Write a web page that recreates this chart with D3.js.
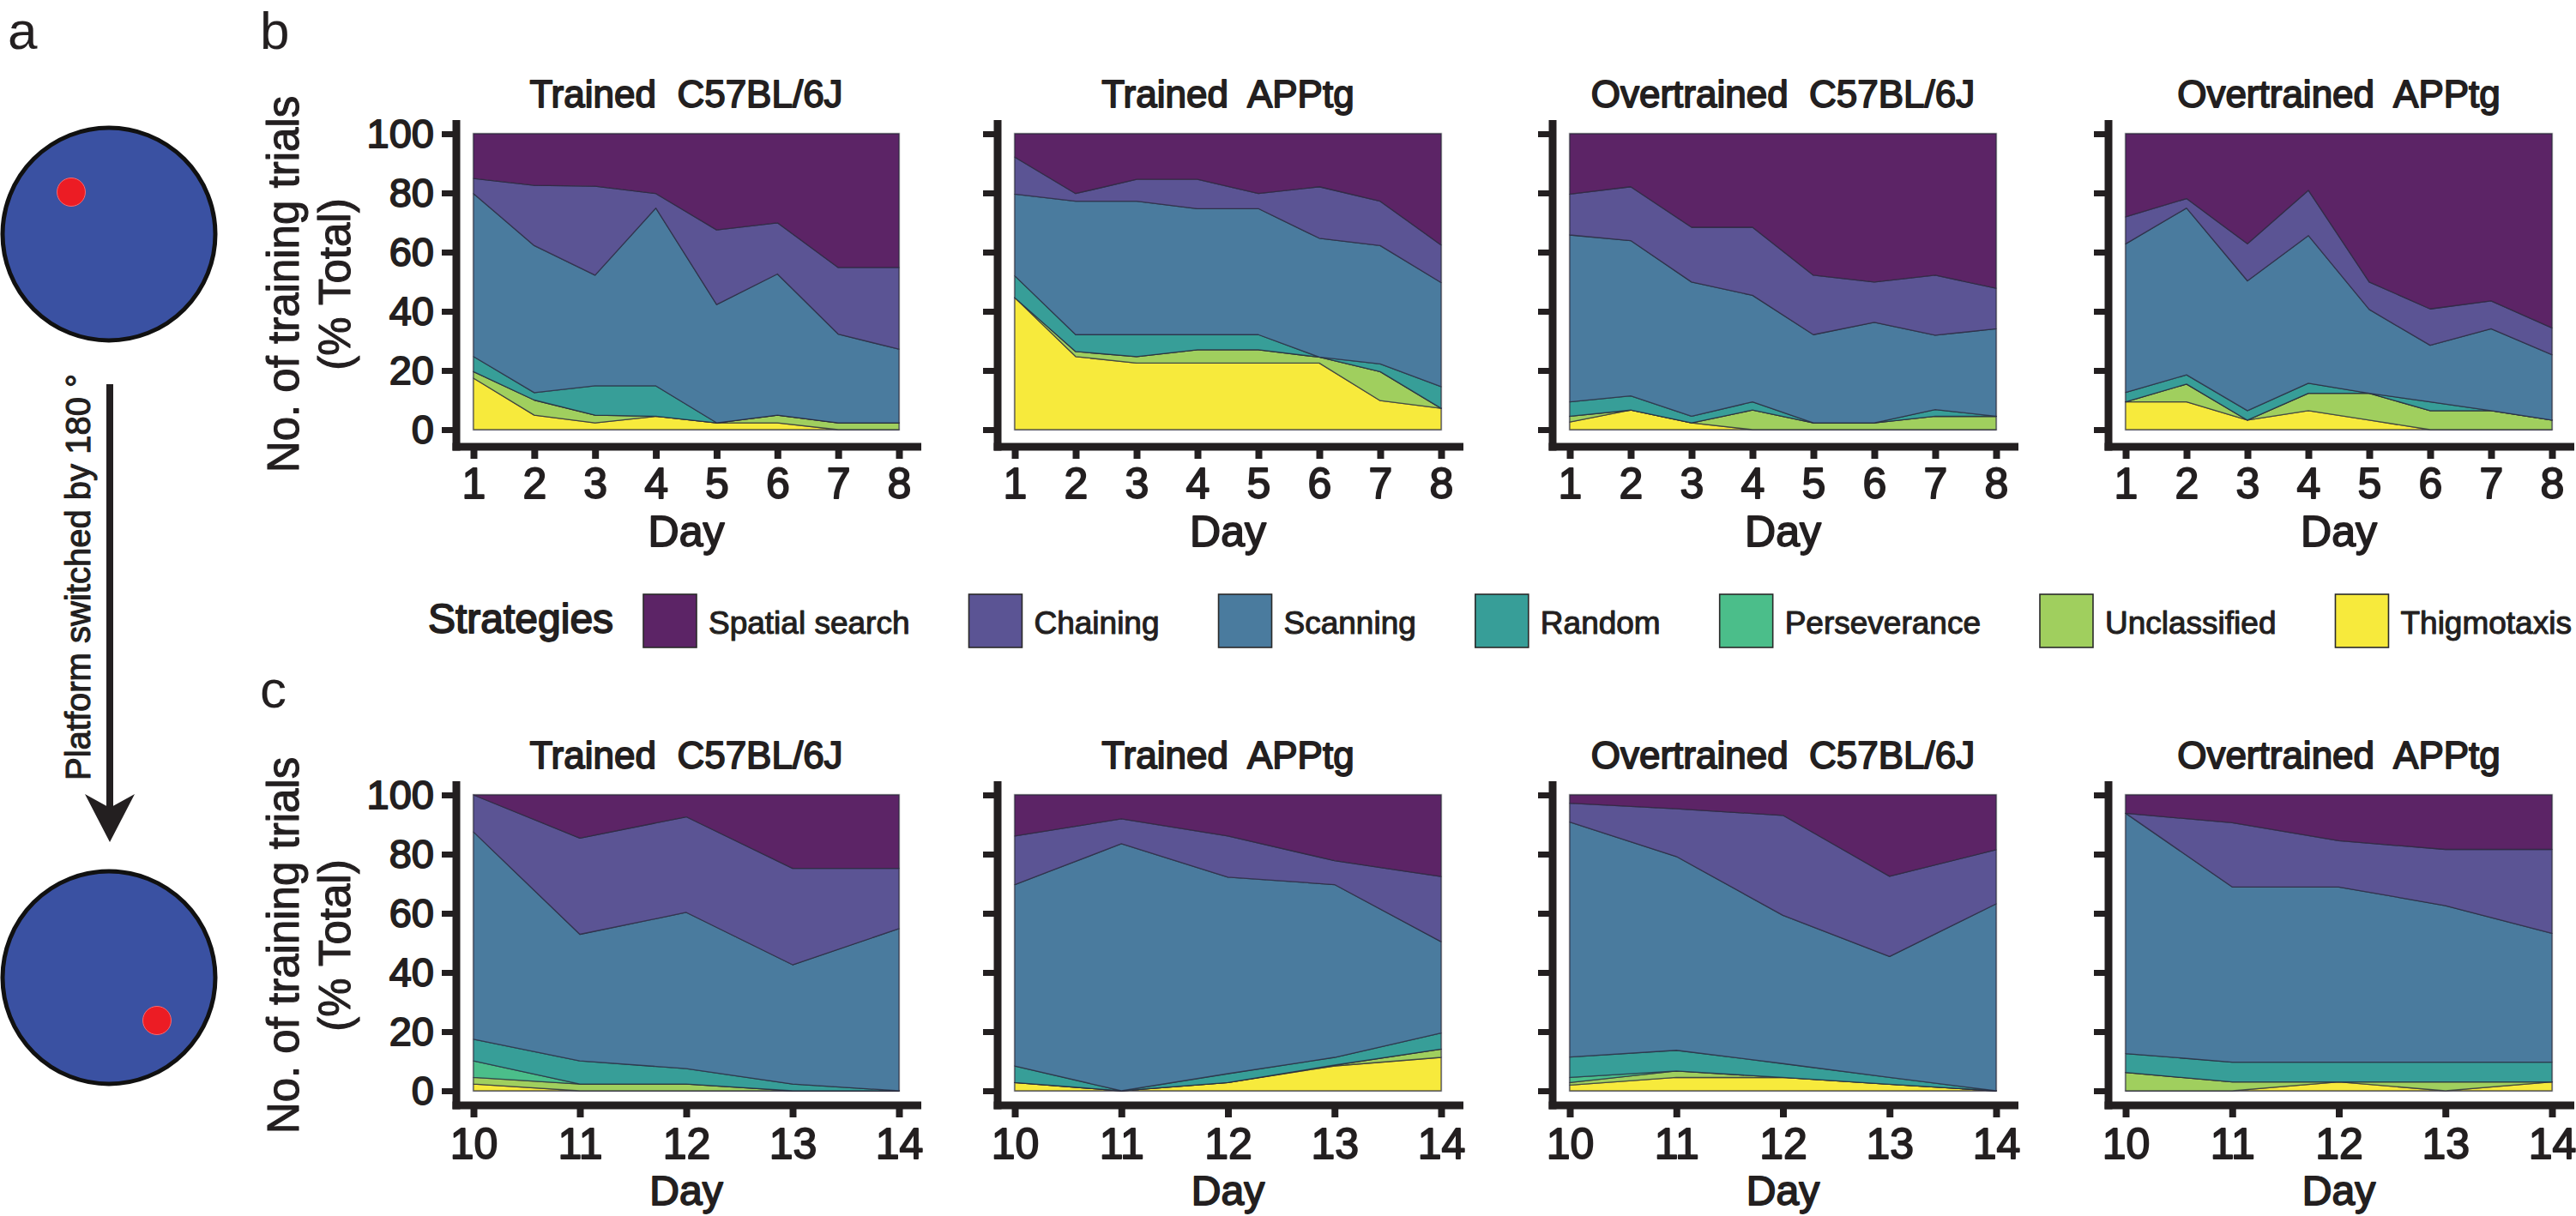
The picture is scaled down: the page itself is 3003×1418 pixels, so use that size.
<!DOCTYPE html>
<html><head><meta charset="utf-8">
<script src="https://cdn.jsdelivr.net/npm/d3@7"></script>
<style>
body{margin:0;background:#fff}
svg text{font-family:"Liberation Sans",Arial,Helvetica,sans-serif;fill:#231f20}
svg text.heavy{stroke:#231f20;stroke-width:1.8px;stroke-linejoin:round}
svg text.medium{stroke:#231f20;stroke-width:1.1px;stroke-linejoin:round}
</style>
</head><body>
<svg id="fig" width="3003" height="1418" xmlns="http://www.w3.org/2000/svg"></svg>
<script>
// ---------- DATA ----------
// stacking order, bottom to top
const strategies = ["Thigmotaxis","Unclassified","Perseverance","Random","Scanning","Chaining","Spatial search"];
const legendOrder = ["Spatial search","Chaining","Scanning","Random","Perseverance","Unclassified","Thigmotaxis"];
const strategyColors = ["#f7ea3c","#a0cf5e","#4bbe8a","#379e98","#4a7b9e","#5b5494","#5c2466"];
const daysB = [1,2,3,4,5,6,7,8];
const daysC = [10,11,12,13,14];
const yTicks = [0,20,40,60,80,100];
const panelTitles = ["Trained  C57BL/6J","Trained  APPtg","Overtrained  C57BL/6J","Overtrained  APPtg"];

// % of training trials per strategy (rows follow `strategies`), one value per day
const bTrainedC57 = [
  [17.4, 4.9, 2.3, 4.5, 2.3, 2.3, 0, 0],
  [2.2, 5.1, 2.6, 0, 0, 2.6, 2.3, 2.3],
  [0, 0, 0, 0, 0, 0, 0, 0],
  [5.1, 2.5, 9.9, 10.3, 0, 0, 0, 0],
  [55.1, 49.7, 37.4, 60.1, 40.0, 47.7, 30.0, 24.9],
  [5.1, 20.4, 30.1, 4.9, 25.2, 17.3, 22.5, 27.6],
  [15.1, 17.4, 17.7, 20.2, 32.5, 30.1, 45.2, 45.2]
];
const bTrainedAPP = [
  [44.6, 24.7, 22.5, 22.5, 22.5, 22.5, 9.8, 7.2],
  [0, 1.7, 2.2, 4.5, 4.5, 2.0, 9.8, 0],
  [0, 0, 0, 0, 0, 0, 0, 0],
  [7.4, 5.7, 7.4, 5.1, 5.1, 0, 2.6, 7.3],
  [27.6, 45.1, 45.1, 42.6, 42.6, 40.2, 40.0, 35.2],
  [12.5, 2.6, 7.4, 9.9, 5.1, 17.4, 15.0, 12.7],
  [7.9, 20.2, 15.4, 15.4, 20.2, 17.9, 22.8, 37.6]
];
const bOverC57 = [
  [2.6, 6.6, 2.3, 0, 0, 0, 0, 0],
  [1.9, 0, 0, 6.6, 2.3, 2.3, 4.5, 4.5],
  [0, 0, 0, 0, 0, 0, 0, 0],
  [4.9, 4.8, 2.2, 2.8, 0, 0, 2.3, 0],
  [56.4, 52.5, 45.4, 36.0, 29.8, 34.0, 25.1, 29.6],
  [13.8, 18.2, 18.5, 23.0, 20.1, 13.6, 20.3, 13.7],
  [20.4, 17.9, 31.6, 31.6, 47.8, 50.1, 47.8, 52.2]
];
const bOverAPP = [
  [9.4, 9.4, 3.2, 6.4, 3.2, 0, 0, 0],
  [0, 6.0, 0, 5.9, 9.1, 6.4, 6.4, 3.2],
  [0, 0, 0, 0, 0, 0, 0, 0],
  [3.2, 3.1, 3.2, 3.4, 0, 3.0, 0, 0],
  [50.2, 56.4, 43.9, 49.9, 28.3, 19.1, 27.7, 22.1],
  [9.1, 3.2, 12.5, 15.3, 9.3, 12.3, 9.4, 9.1],
  [28.1, 21.9, 37.2, 19.1, 50.1, 59.2, 56.5, 65.6]
];
const cTrainedC57 = [
  [2.3, 0, 0, 0, 0],
  [2.2, 2.3, 2.3, 0, 0],
  [5.6, 0, 0, 0, 0],
  [7.3, 7.8, 5.2, 2.3, 0],
  [70.1, 42.8, 52.8, 40.3, 54.8],
  [12.5, 32.5, 32.3, 32.6, 20.4],
  [0, 14.6, 7.4, 24.8, 24.8]
];
const cTrainedAPP = [
  [2.8, 0, 2.8, 8.4, 11.3],
  [0, 0, 0, 0.3, 2.8],
  [0, 0, 0, 0, 0],
  [5.6, 0, 3.0, 2.6, 5.4],
  [61.3, 83.5, 66.4, 58.4, 30.9],
  [16.4, 8.4, 13.9, 8.1, 22.0],
  [13.9, 8.1, 13.9, 22.2, 27.6]
];
const cOverC57 = [
  [1.9, 4.5, 4.5, 2.2, 0],
  [0.9, 2.2, 0, 0, 0],
  [1.7, 0, 0, 0, 0],
  [6.9, 7.0, 4.7, 2.3, 0],
  [79.4, 65.5, 50.1, 40.9, 63.2],
  [6.4, 16.1, 33.8, 27.1, 18.3],
  [2.8, 4.7, 6.9, 27.5, 18.5]
];
const cOverAPP = [
  [0, 0, 3.0, 0, 3.0],
  [6.2, 3.0, 0, 3.0, 0],
  [0, 0, 0, 0, 0],
  [6.4, 6.7, 6.7, 6.7, 6.7],
  [81.2, 59.2, 59.2, 52.9, 43.5],
  [0, 21.7, 15.6, 19.0, 28.4],
  [6.2, 9.4, 15.5, 18.4, 18.4]
];

// ---------- LAYOUT ----------
const INK = "#231f20";
const FONT = '"Liberation Sans",Arial,Helvetica,sans-serif';
const svg = d3.select("#fig");
const color = d3.scaleOrdinal().domain(strategies).range(strategyColors);
const colX = [[552,1048],[1183,1680],[1830,2327],[2478,2975]];
const rows = [
  {days: daysB, data: [bTrainedC57,bTrainedAPP,bOverC57,bOverAPP], top:156, bottom:501, axisY:521, tickPad:10.5, dayBase:637, daySize:50, letter:"b", letterY:57},
  {days: daysC, data: [cTrainedC57,cTrainedAPP,cOverC57,cOverAPP], top:927, bottom:1272, axisY:1289, tickPad:12.5, dayBase:1405, daySize:48, letter:"c", letterY:825}
];

function drawPanel(g, data, days, cfg, col) {
  const [x0, x1] = colX[col];
  const x = d3.scaleLinear().domain(d3.extent(days)).range([x0, x1]);
  const y = d3.scaleLinear().domain([0, 100]).range([cfg.bottom, cfg.top]);
  const table = days.map((d, i) => {
    const o = {day: d};
    strategies.forEach((s, k) => { o[s] = data[k][i]; });
    return o;
  });
  const series = d3.stack().keys(strategies)(table);
  const area = d3.area().x(d => x(d.data.day)).y0(d => y(d[0])).y1(d => y(d[1]));

  g.append("rect").attr("x", x0).attr("y", y(100)).attr("width", x1 - x0).attr("height", y(0) - y(100))
    .attr("fill", "#fff").attr("stroke", "#b8b8b8").attr("stroke-width", 2.5);
  g.selectAll("path.layer").data(series).join("path").attr("class", "layer")
    .attr("d", area).attr("fill", d => color(d.key))
    .attr("stroke", "#26263a").attr("stroke-width", 1.3).attr("stroke-opacity", 0.7)
    .attr("stroke-linejoin", "round");

  const axX = x0 - 20;
  // y axis
  const yAxis = d3.axisLeft(y).tickValues(yTicks).tickSize(17).tickPadding(9)
    .tickFormat(col === 0 ? d3.format("d") : () => "");
  const gy = g.append("g").attr("transform", `translate(${axX},0)`).call(yAxis);
  gy.select(".domain").remove();
  gy.selectAll(".tick line").attr("stroke", INK).attr("stroke-width", 7);
  gy.selectAll(".tick text").attr("class", "heavy").attr("font-size", 47).attr("fill", INK).attr("font-family", FONT);
  g.append("line").attr("x1", axX).attr("x2", axX).attr("y1", cfg.top - 16).attr("y2", cfg.axisY + 4.5)
    .attr("stroke", INK).attr("stroke-width", 9);

  // x axis
  const xAxis = d3.axisBottom(x).tickValues(days).tickSize(14).tickPadding(cfg.tickPad).tickFormat(d3.format("d"));
  const gx = g.append("g").attr("transform", `translate(0,${cfg.axisY})`).call(xAxis);
  gx.select(".domain").remove();
  gx.selectAll(".tick line").attr("stroke", INK).attr("stroke-width", 8);
  gx.selectAll(".tick text").attr("class", "heavy").attr("font-size", 50).attr("fill", INK).attr("font-family", FONT);
  g.append("line").attr("x1", axX - 4.5).attr("x2", x1 + 26).attr("y1", cfg.axisY).attr("y2", cfg.axisY)
    .attr("stroke", INK).attr("stroke-width", 9);

  // title and x label
  g.append("text").attr("class", "heavy").attr("x", (x0 + x1) / 2).attr("y", cfg.top - 31).attr("text-anchor", "middle")
    .attr("font-size", 44).style("white-space", "pre").text(panelTitles[col]);
  g.append("text").attr("class", "heavy").attr("x", (x0 + x1) / 2).attr("y", cfg.dayBase).attr("text-anchor", "middle")
    .attr("font-size", cfg.daySize).text("Day");
}

rows.forEach(cfg => {
  const gRow = svg.append("g");
  cfg.data.forEach((data, col) => drawPanel(gRow.append("g"), data, cfg.days, cfg, col));
  const cy = (cfg.top + cfg.bottom) / 2 + 3;
  gRow.append("text").attr("class", "medium").attr("transform", `translate(348,${cy}) rotate(-90)`).attr("text-anchor", "middle")
    .attr("font-size", 51).text("No. of training trials");
  gRow.append("text").attr("class", "medium").attr("transform", `translate(408,${cy}) rotate(-90)`).attr("text-anchor", "middle")
    .attr("font-size", 51).text("(% Total)");
  gRow.append("text").attr("x", 303).attr("y", cfg.letterY).attr("font-size", 62).text(cfg.letter);
});

// ---------- LEGEND ----------
const leg = svg.append("g");
leg.append("text").attr("class", "heavy").attr("x", 499).attr("y", 738).attr("font-size", 48).text("Strategies");
let lx = 750;
legendOrder.forEach(s => {
  leg.append("rect").attr("x", lx).attr("y", 693).attr("width", 62).attr("height", 62)
    .attr("fill", color(s)).attr("stroke", "#2a2a2a").attr("stroke-width", 1.6);
  const t = leg.append("text").attr("class", "medium").attr("x", lx + 76).attr("y", 739).attr("font-size", 37).text(s);
  lx = lx + 76 + t.node().getComputedTextLength() + 69;
});

// ---------- PANEL a ----------
const ga = svg.append("g");
ga.append("text").attr("x", 9).attr("y", 57).attr("font-size", 62).text("a");
const circles = [{cx:127, cy:273, dx:83, dy:224}, {cx:127, cy:1140, dx:183, dy:1190}];
ga.selectAll("circle.pool").data(circles).join("circle").attr("class","pool")
  .attr("cx", d => d.cx).attr("cy", d => d.cy).attr("r", 124)
  .attr("fill", "#3a51a2").attr("stroke", "#111").attr("stroke-width", 5);
ga.selectAll("circle.plat").data(circles).join("circle").attr("class","plat")
  .attr("cx", d => d.dx).attr("cy", d => d.dy).attr("r", 16.5)
  .attr("fill", "#ec1c24").attr("stroke", "#f46a70").attr("stroke-width", 1);
ga.append("line").attr("x1", 128).attr("x2", 128).attr("y1", 448).attr("y2", 950)
  .attr("stroke", INK).attr("stroke-width", 8);
ga.append("path").attr("d", "M128,982 L99,926 L128,942 L157,926 Z").attr("fill", INK);
ga.append("text").attr("class", "medium").attr("transform", "translate(105,673) rotate(-90)").attr("text-anchor", "middle")
  .attr("font-size", 40).text("Platform switched by 180 °");
</script>
</body></html>
